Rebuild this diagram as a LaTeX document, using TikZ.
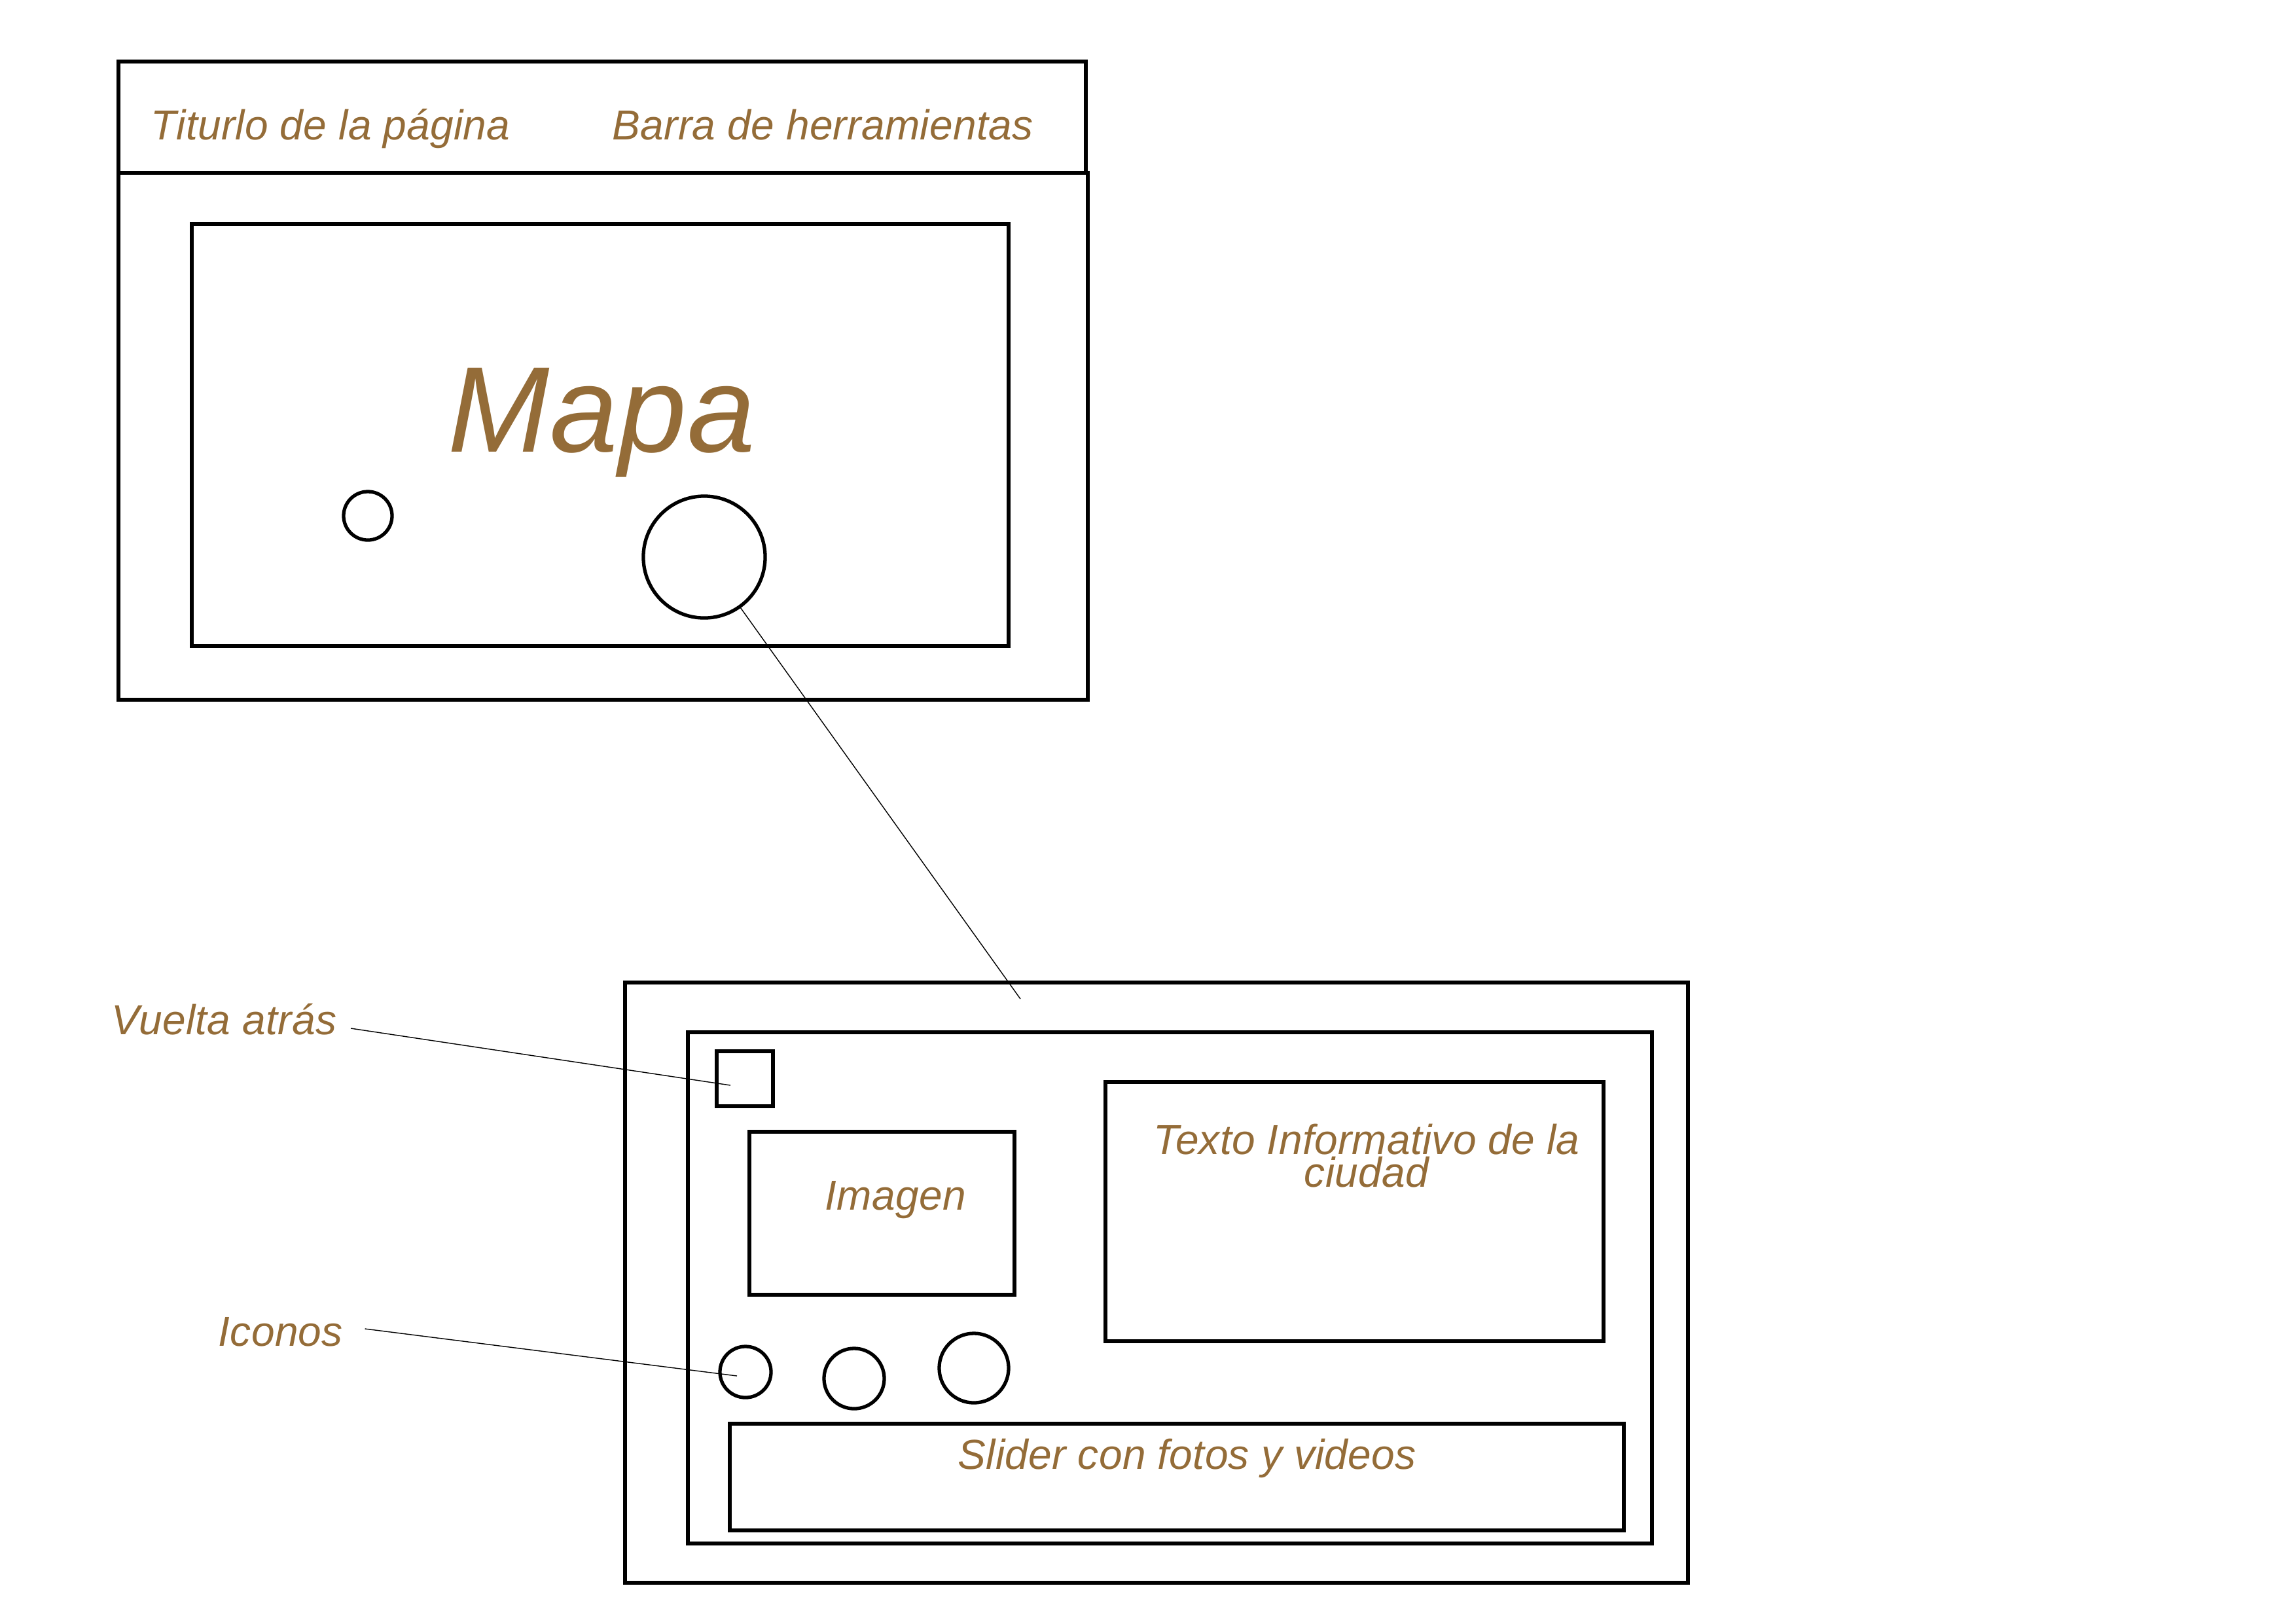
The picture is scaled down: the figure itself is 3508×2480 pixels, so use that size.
\documentclass[tikz,border=0pt]{standalone}
\usepackage{fontspec}
\setmainfont{Liberation Sans}[LetterSpace=0.5]
\usetikzlibrary{calc}
\definecolor{labelbrown}{RGB}{148,108,56}

\begin{document}
\begin{tikzpicture}[x=0.01cm,y=-0.01cm,
  box/.style={line width=1.5pt},
  lbl/.style={labelbrown,font=\itshape\fontsize{18.2}{14.2}\selectfont,inner sep=0pt,anchor=base west},
  spot/.style={draw,circle,line width=1.5pt,inner sep=0pt},
  leader/.style={line width=0.4pt}]
  \useasboundingbox (0,0) rectangle (3508,2480);
  % main page: header, body and map area
  \draw[line width=1.9pt] (181,94) rectangle (1659,264);
  \draw[box] (181,264) rectangle (1662,1069);
  \draw[box] (293,342) rectangle (1541,987);
  \node[lbl] (pagetitle) at (230,213) {Titurlo de la página};
  \node[lbl] (toolbar) at (935,213) {Barra de herramientas};
  \node[lbl,font=\itshape\fontsize{53}{60}\selectfont] (maplbl) at (684,690) {Mapa};
  \node[spot,minimum size=0.74cm] (spotA) at (562,788) {};
  \node[spot,minimum size=1.86cm] (spotB) at (1076,851) {};
  % city view
  \draw[box] (955,1501) rectangle (2579,2418);
  \draw[box] (1051,1577) rectangle (2524,2358);
  \draw[box] (1095,1606) rectangle (1181,1690);
  \draw[box] (1145,1729) rectangle (1550,1978);
  \draw[box] (1689,1653) rectangle (2450,2049);
  \draw[box] (1115,2175) rectangle (2481,2338);
  \node[lbl] (imagen) at (1260,1848) {Imagen};
  \node[lbl,anchor=base,align=center] (infotext) at (2088,1813) {Texto Informativo de la\\ciudad};
  \node[lbl] (slider) at (1463,2244) {Slider con fotos y videos};
  \node[spot,minimum size=0.78cm] (icoA) at (1139,2096) {};
  \node[spot,minimum size=0.92cm] (icoB) at (1305,2106) {};
  \node[spot,minimum size=1.06cm] (icoC) at (1488,2090) {};
  % zoom line from the map spot
  \coordinate (zoomend) at (1559,1526);
  \draw[leader] (spotB) -- (zoomend);
  % callouts
  \node[lbl] (backlbl) at (170,1580) {Vuelta atrás};
  \node[lbl] (iconlbl) at (333,2056) {Iconos};
  \coordinate (backpt) at (1116,1658);
  \coordinate (iconpt) at (1126,2102);
  \draw[leader] ([shift={(21,-9)}]backlbl.base east) -- (backpt);
  \draw[leader] ([shift={(33,-26)}]iconlbl.base east) -- (iconpt);
\end{tikzpicture}
\end{document}
